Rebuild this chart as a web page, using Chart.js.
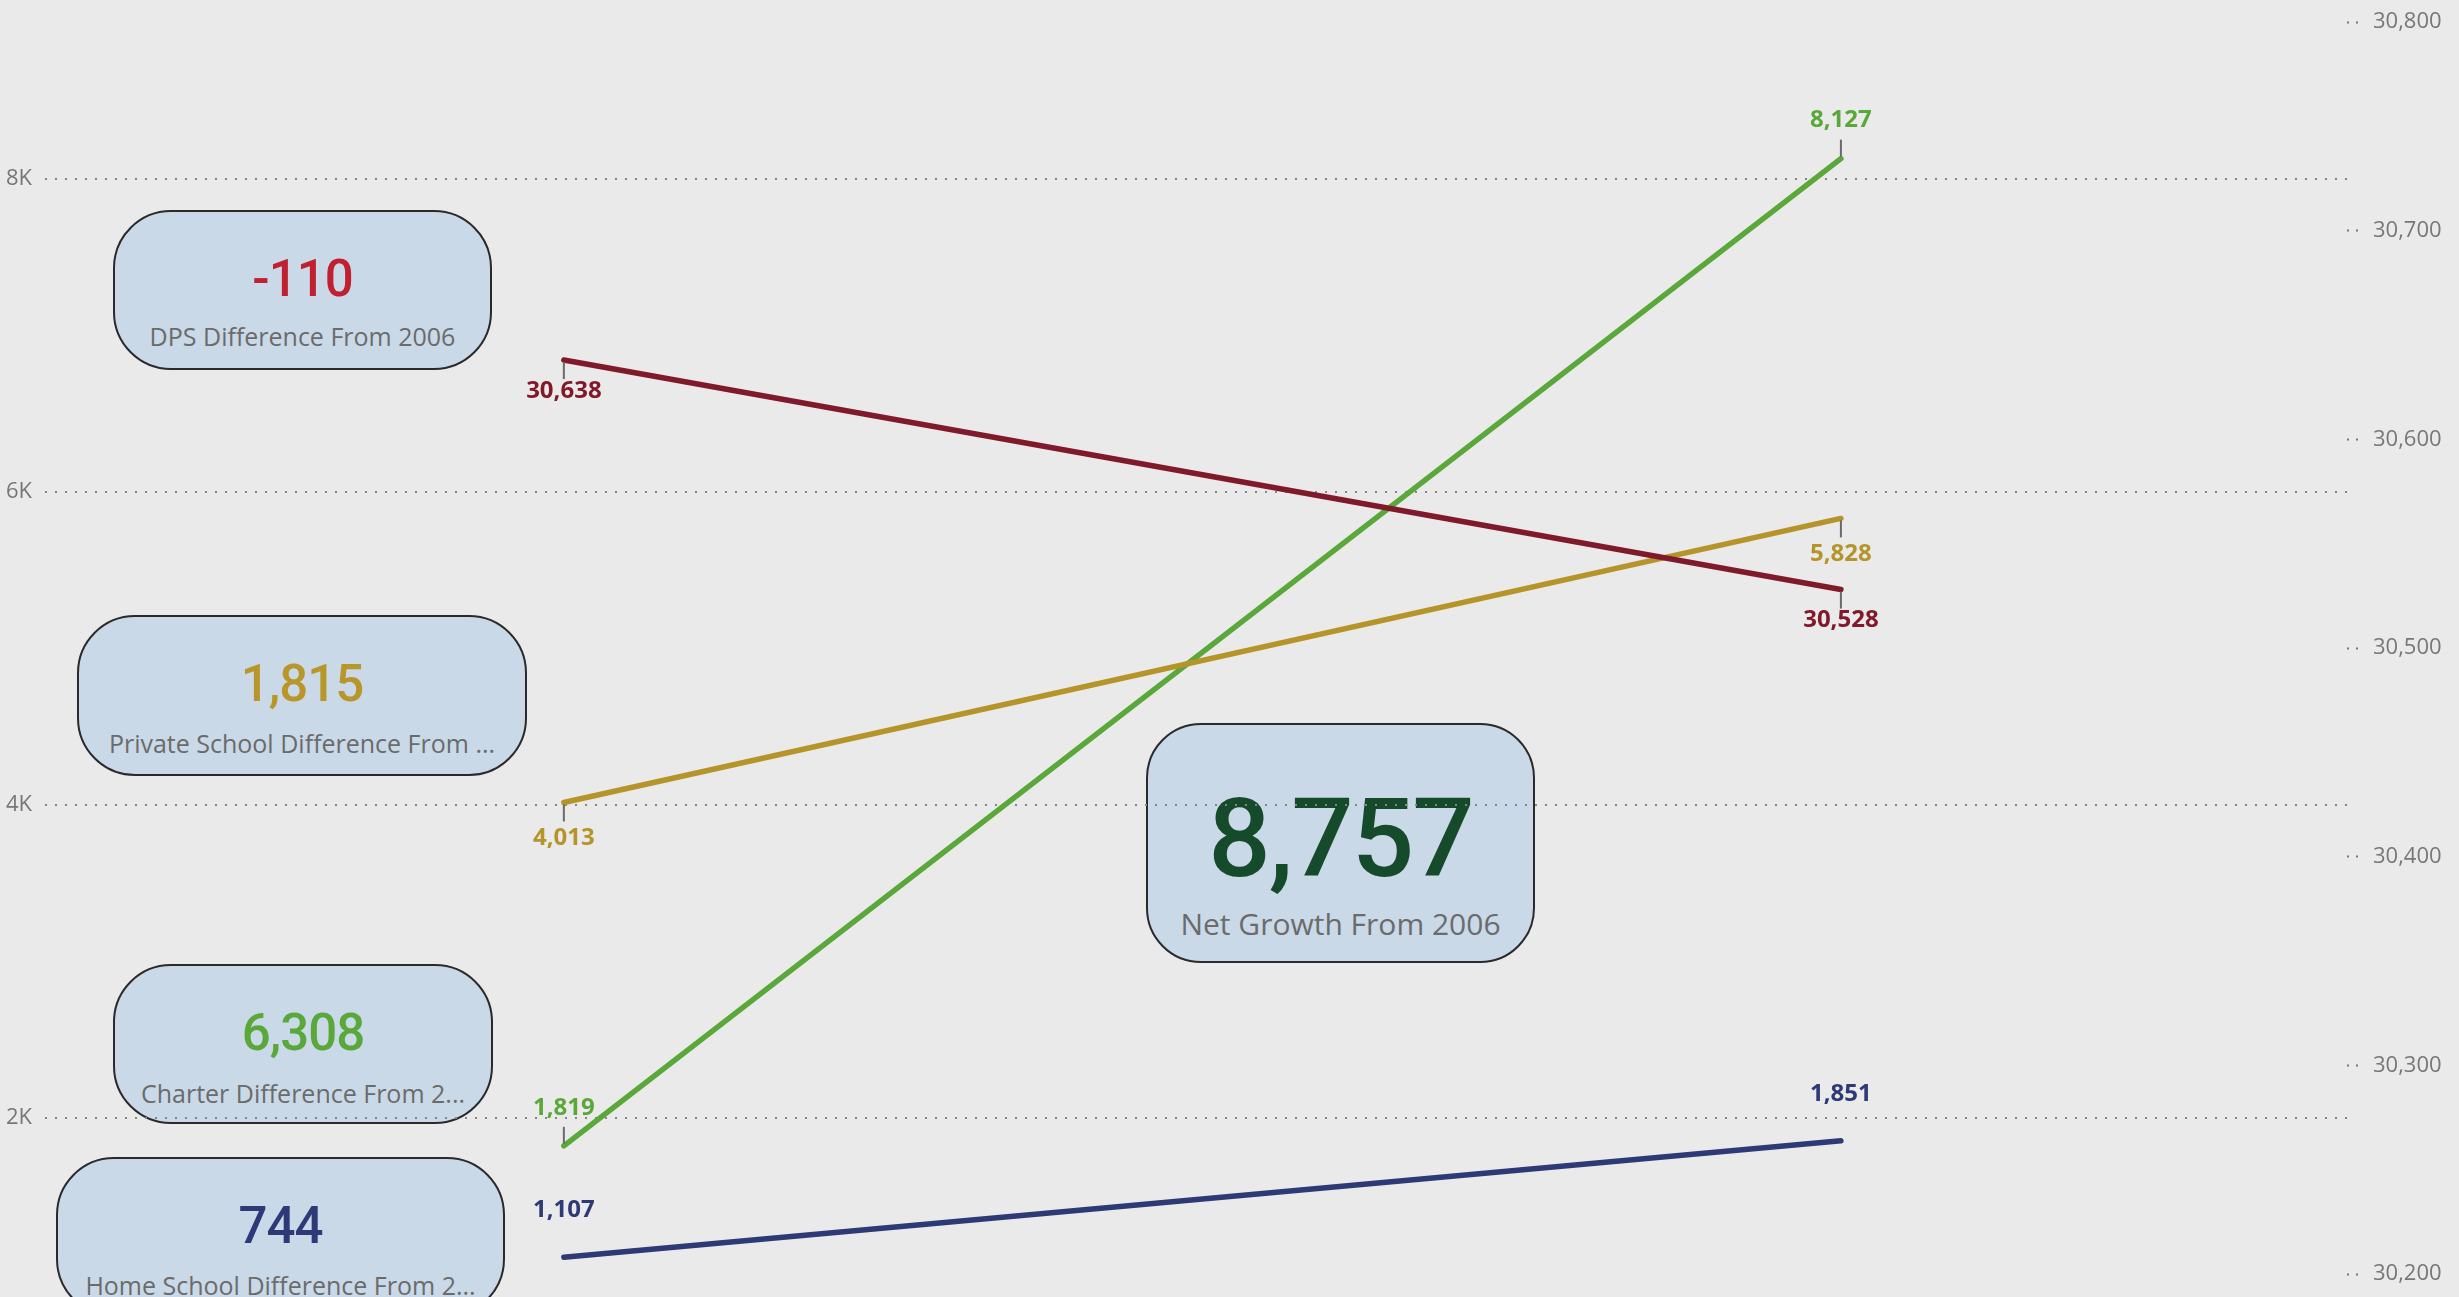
<!DOCTYPE html>
<html>
<head>
<meta charset="utf-8">
<script src="https://cdn.jsdelivr.net/npm/chart.js@4.4.1/dist/chart.umd.min.js"></script>
<style>
  html, body { margin:0; padding:0; width:2459px; height:1297px; overflow:hidden; background:#EAEAEA; }
  #wrap { position:relative; width:2459px; height:1297px; overflow:hidden; }
  canvas#c { position:absolute; left:0; top:0; z-index:2; }
  .card { position:absolute; z-index:1; box-sizing:border-box; background:#C9D9E7; border:2px solid #2a2a2a; }
  .card .val { position:absolute; left:0; right:0; text-align:center; font-family:Roboto, 'DejaVu Sans', sans-serif; font-weight:500; line-height:1; transform:translateY(-50%); }
  .card .lbl { position:absolute; left:0; right:0; text-align:center; font-family:'Open Sans','Noto Sans',sans-serif; color:#6b6b6b; line-height:1; white-space:nowrap; transform:translateY(-50%); }
</style>
</head>
<body>
<div id="wrap">
  <canvas id="c" width="2459" height="1320"></canvas>
</div>
<script>
// ---- data ----
const years = [2006, 2025];
const dpsValues = [30638, 30528];
const privateValues = [4013, 5828];
const charterValues = [1819, 8127];
const homeValues = [1107, 1851];
const leftTicks = [2000, 4000, 6000, 8000];
const rightTicks = [30200, 30300, 30400, 30500, 30600, 30700, 30800];
const cardValues = [-110, 1815, 6308, 744, 8757];
const cardLabels = ['DPS Difference From 2006', 'Private School Difference From ...', 'Charter Difference From 2...', 'Home School Difference From 2...', 'Net Growth From 2006'];

// ---- card layout/styles ----
const cardStyles = [
  {left:113, top:210, w:379, h:160, r:58, color:'#C0202F', vY:66, vSize:51, lY:124, lSize:25},
  {left:77,  top:615, w:450, h:161, r:58, color:'#B8962A', vY:66, vSize:51, lY:126, lSize:25},
  {left:113, top:964, w:380, h:160, r:58, color:'#5AA83A', vY:66, vSize:51, lY:127, lSize:25},
  {left:56,  top:1157, w:449, h:160, r:58, color:'#2D3A77', vY:66, vSize:51, lY:126, lSize:25},
  {left:1146, top:723, w:389, h:240, r:55, color:'#154A2B', vY:114, vSize:110, lY:199, lSize:30}
];
const wrap = document.getElementById('wrap');
cardValues.forEach((v, i) => {
  const s = cardStyles[i];
  const d = document.createElement('div');
  d.className = 'card';
  d.style.cssText = `left:${s.left}px;top:${s.top}px;width:${s.w}px;height:${s.h}px;border-radius:${s.r}px;`;
  const val = document.createElement('div');
  val.className = 'val';
  val.style.cssText = `top:${s.vY}px;font-size:${s.vSize}px;color:${s.color};letter-spacing:${i===4?-2:-1}px;`;
  val.textContent = v.toLocaleString('en-US');
  const lbl = document.createElement('div');
  lbl.className = 'lbl';
  lbl.style.cssText = `top:${s.lY}px;font-size:${s.lSize}px;`;
  lbl.textContent = cardLabels[i];
  d.appendChild(val); d.appendChild(lbl);
  wrap.appendChild(d);
});

// ---- data label plugin with leader lines ----
const dataLabels = {
  id: 'dataLabels',
  afterDatasetsDraw(chart) {
    const ctx = chart.ctx;
    chart.data.datasets.forEach((ds, i) => {
      const meta = chart.getDatasetMeta(i);
      meta.data.forEach((pt, j) => {
        const sign = ds.labelSide === 'above' ? -1 : 1;
        const x = pt.x, y = pt.y;
        ctx.save();
        if (ds.leader) {
          ctx.strokeStyle = '#6a6a6a';
          ctx.lineWidth = 2;
          ctx.beginPath();
          ctx.moveTo(x, y + sign * 2);
          ctx.lineTo(x, y + sign * 19);
          ctx.stroke();
        }
        ctx.fillStyle = ds.borderColor;
        ctx.font = "bold 24px 'Open Sans', 'Noto Sans', sans-serif";
        ctx.textAlign = 'center';
        ctx.textBaseline = 'middle';
        ctx.fillText(ds.data[j].y.toLocaleString('en-US'), x, y + sign * ds.labelOffset);
        ctx.restore();
      });
    });
  }
};

const toPts = arr => arr.map((v, i) => ({x: years[i], y: v}));
const tickFont = {family: "'Open Sans', 'Noto Sans', sans-serif", size: 22};
const noPad = s => { s.paddingTop = 0; s.paddingBottom = 0; };

new Chart(document.getElementById('c'), {
  type: 'line',
  data: {
    datasets: [
      {label:'DPS', data: toPts(dpsValues), yAxisID:'yR', borderColor:'#80192A', labelSide:'below', labelOffset:31, leader:true},
      {label:'Private School', data: toPts(privateValues), yAxisID:'yL', borderColor:'#B5952A', labelSide:'below', labelOffset:36, leader:true},
      {label:'Charter', data: toPts(charterValues), yAxisID:'yL', borderColor:'#5AA73A', labelSide:'above', labelOffset:38, leader:true},
      {label:'Home School', data: toPts(homeValues), yAxisID:'yL', borderColor:'#2E3A76', labelSide:'above', labelOffset:47, leader:false}
    ]
  },
  options: {
    responsive: false,
    devicePixelRatio: 1,
    animation: false,
    layout: {padding: {top: 22, left: 0, right: 0, bottom: 0}},
    elements: {
      line: {borderWidth: 5.5, tension: 0, borderCapStyle: 'round'},
      point: {radius: 0, hoverRadius: 0}
    },
    plugins: {legend: {display: false}, tooltip: {enabled: false}},
    scales: {
      x: {
        type: 'linear', min: 1998.28, max: 2032.53,
        grid: {display: false}, border: {display: false},
        afterBuildTicks: s => { s.ticks = years.map(v => ({value: v})); },
        afterFit: s => { s.height = 46; s.paddingLeft = 0; s.paddingRight = 0; },
        ticks: {color: '#777', font: tickFont, padding: 13, autoSkip: false, maxRotation: 0, callback: v => String(v)}
      },
      yL: {
        type: 'linear', position: 'left', min: 1000, max: 9000,
        afterBuildTicks: s => { s.ticks = leftTicks.map(v => ({value: v})); },
        afterFit: s => { s.width = 45; noPad(s); },
        grid: {color: '#858585', lineWidth: 2, drawTicks: false},
        border: {display: false, dash: [2, 8]},
        ticks: {color: '#777', font: tickFont, padding: 13, callback: v => (v / 1000) + 'K'}
      },
      yR: {
        type: 'linear', position: 'right', min: 30200, max: 30800,
        afterBuildTicks: s => { s.ticks = rightTicks.map(v => ({value: v})); },
        afterFit: s => { s.width = 112; noPad(s); },
        grid: {drawOnChartArea: false, drawTicks: true, tickLength: 12, tickColor: '#777', tickWidth: 2, tickBorderDash: [2, 7]},
        border: {display: false},
        ticks: {color: '#777', font: tickFont, padding: 14, callback: v => v.toLocaleString('en-US')}
      }
    }
  },
  plugins: [dataLabels]
});
</script>
</body>
</html>
